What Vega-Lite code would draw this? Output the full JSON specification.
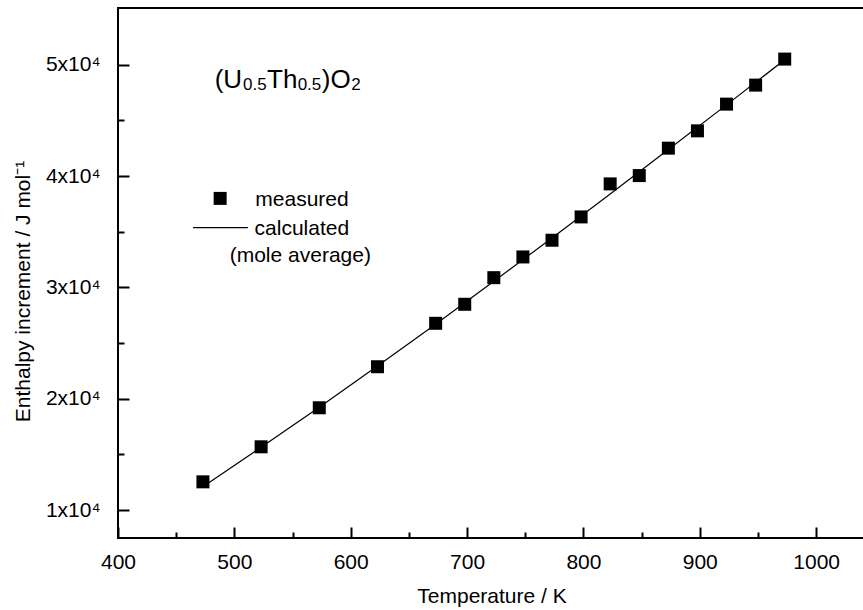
{
  "$schema": "https://vega.github.io/schema/vega-lite/v6.json",
  "autosize": {"type": "none"},
  "padding": {"left": 118, "top": 8, "right": 0, "bottom": 72},
  "width": 747,
  "height": 530,
  "background": "white",
  "config": {
    "view": {"stroke": "black", "strokeWidth": 2},
    "font": "Liberation Sans",
    "axis": {
      "domain": false,
      "grid": false,
      "tickColor": "black",
      "tickWidth": 2,
      "labelColor": "black",
      "titleColor": "black",
      "labelFont": "Liberation Sans",
      "titleFont": "Liberation Sans",
      "labelFontSize": 20,
      "titleFontSize": 21,
      "titleFontWeight": "normal",
      "labelFlush": false
    }
  },
  "datasets": {
    "measured": [
      {"T": 473, "H": 12544},
      {"T": 523, "H": 15690},
      {"T": 573, "H": 19196},
      {"T": 623, "H": 22881},
      {"T": 673, "H": 26782},
      {"T": 698, "H": 28490},
      {"T": 723, "H": 30881},
      {"T": 748, "H": 32742},
      {"T": 773, "H": 34243},
      {"T": 798, "H": 36337},
      {"T": 823, "H": 39303},
      {"T": 848, "H": 40049},
      {"T": 873, "H": 42512},
      {"T": 898, "H": 44067},
      {"T": 923, "H": 46467},
      {"T": 948, "H": 48175},
      {"T": 973, "H": 50512}
    ],
    "calculated": [
      {"T": 473, "H": 12100},
      {"T": 523, "H": 15650},
      {"T": 573, "H": 19250},
      {"T": 623, "H": 22950},
      {"T": 673, "H": 26700},
      {"T": 723, "H": 30550},
      {"T": 773, "H": 34450},
      {"T": 823, "H": 38400},
      {"T": 873, "H": 42400},
      {"T": 923, "H": 46400},
      {"T": 973, "H": 50450}
    ],
    "legendSymbol": [{"T": 487.8, "H": 38000}],
    "legendLine": [{"T": 464.4, "T2": 511.6, "H": 35375}],
    "legendText": [
      {"text": "measured", "T": 518.0, "H": 37353},
      {"text": "calculated", "T": 517.4, "H": 34719},
      {"text": "(mole average)", "T": 496.0, "H": 32247}
    ],
    "formulaMain": [
      {"text": "(U", "T": 483.1, "H": 47906},
      {"text": "Th", "T": 528.1, "H": 47906},
      {"text": ")O", "T": 575.1, "H": 47906}
    ],
    "formulaSub": [
      {"text": "0.5", "T": 507.4, "H": 47753},
      {"text": "0.5", "T": 554.4, "H": 47753},
      {"text": "2", "T": 600.4, "H": 47753}
    ]
  },
  "layer": [
    {
      "data": {"name": "calculated"},
      "mark": {"type": "line", "color": "black", "strokeWidth": 1.2},
      "encoding": {
        "x": {
          "field": "T", "type": "quantitative",
          "scale": {"domain": [400, 1042], "nice": false, "zero": false},
          "axis": {
            "title": "Temperature / K",
            "values": [400, 450, 500, 550, 600, 650, 700, 750, 800, 850, 900, 950, 1000],
            "labelExpr": "datum.value % 100 == 0 ? format(datum.value, 'd') : ''",
            "tickSize": {"condition": {"test": "datum.value % 100 != 0", "value": -6}, "value": -11},
            "labelFontSize": 21,
            "labelPadding": 24,
            "titlePadding": 13
          }
        },
        "y": {
          "field": "H", "type": "quantitative",
          "scale": {"domain": [7500, 55100], "nice": false, "zero": false},
          "axis": {
            "title": "Enthalpy increment / J mol⁻¹",
            "values": [10000, 15000, 20000, 25000, 30000, 35000, 40000, 45000, 50000],
            "labelExpr": "datum.value % 10000 == 0 ? (datum.value / 10000) + 'x10⁴' : ''",
            "tickSize": {"condition": {"test": "datum.value % 10000 != 0", "value": -6}, "value": -11},
            "labelFontSize": 21,
            "labelPadding": 29,
            "titlePadding": 12,
            "titleY": 283
          }
        }
      }
    },
    {
      "data": {"name": "measured"},
      "mark": {"type": "point", "shape": "square", "filled": true, "color": "black", "opacity": 1, "size": 169},
      "encoding": {
        "x": {"field": "T", "type": "quantitative"},
        "y": {"field": "H", "type": "quantitative"}
      }
    },
    {
      "data": {"name": "legendSymbol"},
      "mark": {"type": "point", "shape": "square", "filled": true, "color": "black", "opacity": 1, "size": 169},
      "encoding": {
        "x": {"field": "T", "type": "quantitative"},
        "y": {"field": "H", "type": "quantitative"}
      }
    },
    {
      "data": {"name": "legendLine"},
      "mark": {"type": "rule", "color": "black", "strokeWidth": 1.2},
      "encoding": {
        "x": {"field": "T", "type": "quantitative"},
        "x2": {"field": "T2"},
        "y": {"field": "H", "type": "quantitative"}
      }
    },
    {
      "data": {"name": "legendText"},
      "mark": {"type": "text", "align": "left", "baseline": "alphabetic", "fontSize": 21, "font": "Liberation Sans", "color": "black"},
      "encoding": {
        "x": {"field": "T", "type": "quantitative"},
        "y": {"field": "H", "type": "quantitative"},
        "text": {"field": "text"}
      }
    },
    {
      "data": {"name": "formulaMain"},
      "mark": {"type": "text", "align": "left", "baseline": "alphabetic", "fontSize": 26, "font": "Liberation Sans", "color": "black"},
      "encoding": {
        "x": {"field": "T", "type": "quantitative"},
        "y": {"field": "H", "type": "quantitative"},
        "text": {"field": "text"}
      }
    },
    {
      "data": {"name": "formulaSub"},
      "mark": {"type": "text", "align": "left", "baseline": "alphabetic", "fontSize": 17, "font": "Liberation Sans", "color": "black"},
      "encoding": {
        "x": {"field": "T", "type": "quantitative"},
        "y": {"field": "H", "type": "quantitative"},
        "text": {"field": "text"}
      }
    }
  ]
}
